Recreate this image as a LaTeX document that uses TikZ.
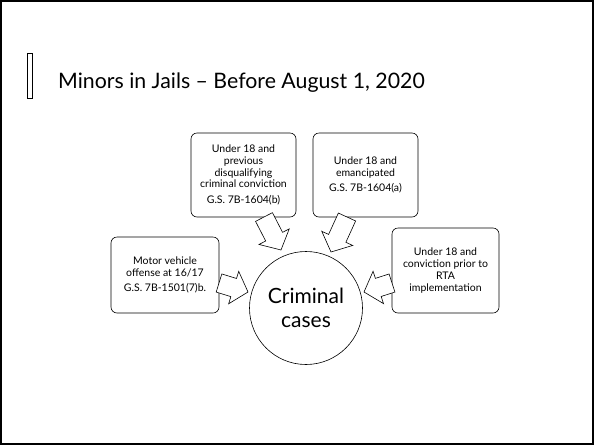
\documentclass[tikz,border=0pt]{standalone}
\usepackage{fontspec}
\setmainfont{Lato}
\usetikzlibrary{calc}
\newcommand\blockarr[2]{%
  \draw[barrow] ($(#1)!9.5pt!90:(#2)$) -- ($($(#2)!15pt!(#1)$)!9.5pt!90:(#2)$)
    -- ($($(#2)!15pt!(#1)$)!17pt!90:(#2)$) -- (#2)
    -- ($($(#2)!15pt!(#1)$)!17pt!-90:(#2)$) -- ($($(#2)!15pt!(#1)$)!9.5pt!-90:(#2)$)
    -- ($(#1)!9.5pt!-90:(#2)$) -- cycle;}
\begin{document}
\begin{tikzpicture}[x=1pt,y=-1pt,
  box/.style={draw, rounded corners=6pt, line width=0.6pt, align=center,
    font=\fontsize{10.5}{11.8}\selectfont, inner sep=0pt},
  barrow/.style={draw, line width=0.6pt, fill=white, line join=miter}]
\useasboundingbox (0,0) rectangle (594,445);
\draw[line width=2pt] (1,1) rectangle (593,444);
\draw[line width=0.5pt] (27,53) rectangle (32,98);
\node[anchor=base west, inner sep=0pt, font=\fontsize{21.3}{25}\selectfont] (title) at (58,88) {Minors in Jails – Before August 1, 2020};

\node[box, minimum width=105pt, minimum height=84pt] (b1) at (243.5,175)
  {Under 18 and\\previous\\disqualifying\\criminal conviction\\[4pt]G.S. 7B-1604(b)};
\node[box, minimum width=105pt, minimum height=84pt] (b2) at (365.5,175)
  {Under 18 and\\emancipated\\[4pt]G.S. 7B-1604(a)};
\node[box, minimum width=108pt, minimum height=76pt] (b3) at (165,275)
  {Motor vehicle\\offense at 16/17\\[4pt]G.S. 7B-1501(7)b.};
\node[box, minimum width=107pt, minimum height=85pt] (b4) at (445.5,270.5)
  {Under 18 and\\conviction prior to\\RTA\\implementation};

\node[draw, circle, line width=0.6pt, minimum size=113pt, align=center,
  font=\fontsize{21}{23.5}\selectfont] (cc) at (306,308) {Criminal\\cases};

\coordinate (s1) at (264,217); \coordinate (t1) at (281,250);
\coordinate (s2) at (347,217); \coordinate (t2) at (331,252);
\coordinate (s3) at (219,283); \coordinate (t3) at (248,292);
\coordinate (s4) at (392,283); \coordinate (t4) at (364,292);
\blockarr{s1}{t1}
\blockarr{s2}{t2}
\blockarr{s3}{t3}
\blockarr{s4}{t4}
\end{tikzpicture}
\end{document}
